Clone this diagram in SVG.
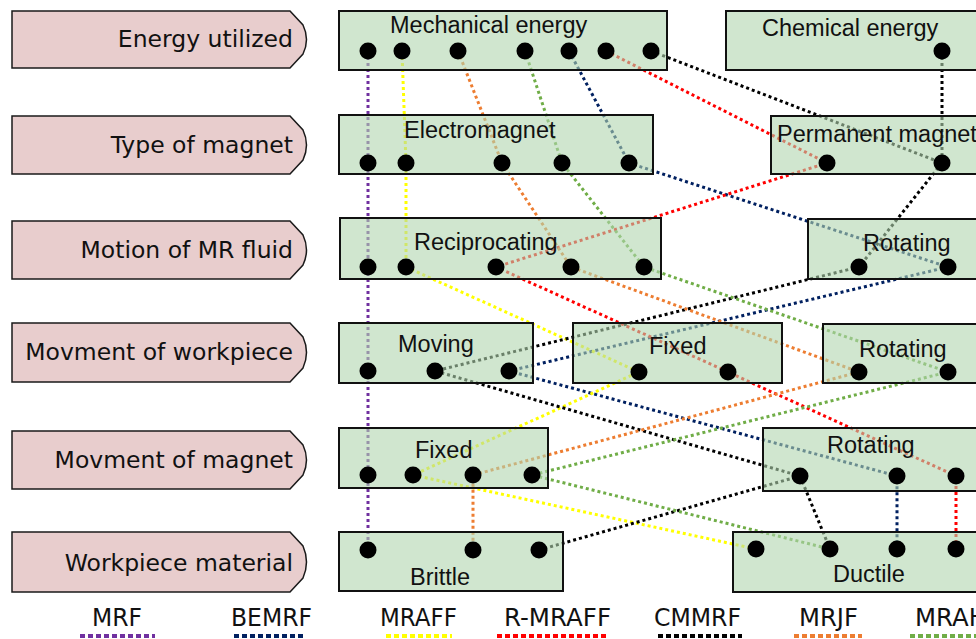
<svg xmlns="http://www.w3.org/2000/svg" width="976" height="639" viewBox="0 0 976 639">
<style>
.lbl{fill:#e8cdcd;stroke:#1a1a1a;stroke-width:1.5}
.ltxt{font-family:"DejaVu Sans",Verdana,sans-serif;font-size:23.5px;fill:#111;text-anchor:end}
.box{fill:#b1d5af;fill-opacity:0.6;stroke:#111;stroke-width:2}
.btxt{font-family:"Liberation Sans",Arial,sans-serif;font-size:23.5px;fill:#111}
.dot{fill:#000}
.c{fill:none;stroke-width:3;stroke-dasharray:3 3}
.lg{fill:none;stroke-width:4;stroke-dasharray:5 3}
.lgt{font-family:"DejaVu Sans",sans-serif;font-size:25px;fill:#111}
.mrf{stroke:#7030a0}.bemrf{stroke:#002060}.mraff{stroke:#ffff00}.rmraff{stroke:#ff0000}.cmmrf{stroke:#000}.mrjf{stroke:#ed7d31}.mrah{stroke:#70ad47}
</style>
<rect width="976" height="639" fill="#fff"/>
<g id="labels">
<g id="lbl-energy"><path class="lbl" d="M12,11H290L303,25Q310,39.5 303,54L290,68H12Z"/><text class="ltxt" x="293" y="47">Energy utilized</text></g>
<g id="lbl-magnet-type"><path class="lbl" d="M12,116H290L303,130Q310,145 303,160L290,174H12Z"/><text class="ltxt" x="293" y="153">Type of magnet</text></g>
<g id="lbl-motion"><path class="lbl" d="M12,221H290L303,235Q310,250 303,265L290,279H12Z"/><text class="ltxt" x="293" y="258">Motion of MR fluid</text></g>
<g id="lbl-workpiece-move"><path class="lbl" d="M12,323H290L303,337Q310,352.5 303,368L290,382H12Z"/><text class="ltxt" x="293" y="360">Movment of workpiece</text></g>
<g id="lbl-magnet-move"><path class="lbl" d="M12,431H290L303,445Q310,460 303,475L290,489H12Z"/><text class="ltxt" x="293" y="468">Movment of magnet</text></g>
<g id="lbl-material"><path class="lbl" d="M12,532H290L303,546Q310,562 303,578L290,592H12Z"/><text class="ltxt" x="293" y="571">Workpiece material</text></g>
</g>
<g id="connectors">
<polyline class="c mrf" points="368,51 368,163 368,267 368,371 368,475 368,550"/>
<polyline class="c bemrf" points="569,51 629,163 948,267 509,371 897,476 897,549"/>
<polyline class="c mraff" points="402,51 406,163 406,267 639,372 413,475 756,549"/>
<polyline class="c rmraff" points="606,51 827,163 496,267 728,372 956,476 956,549"/>
<polyline class="c cmmrf" points="651,51 942,163 859,267 435,371 800,476 539,550"/>
<polyline class="c cmmrf" points="942,51 942,163"/>
<polyline class="c cmmrf" points="800,476 830,549"/>
<polyline class="c mrjf" points="458,51 502,163 571,267 859,372 473,475 473,550"/>
<polyline class="c mrah" points="525,51 562,163 644,267 948,372 532,475 830,549"/>
</g>
<g id="n-mechanical"><rect class="box" x="339" y="11" width="328" height="59"/><text class="btxt" x="390" y="33">Mechanical energy</text>
<circle class="dot" cx="368" cy="51" r="8.5"/><circle class="dot" cx="402" cy="51" r="8.5"/><circle class="dot" cx="458" cy="51" r="8.5"/><circle class="dot" cx="525" cy="51" r="8.5"/><circle class="dot" cx="569" cy="51" r="8.5"/><circle class="dot" cx="606" cy="51" r="8.5"/><circle class="dot" cx="651" cy="51" r="8.5"/></g>
<g id="n-chemical"><rect class="box" x="726" y="11" width="264" height="59"/><text class="btxt" x="762" y="36">Chemical energy</text><circle class="dot" cx="942" cy="51" r="8.5"/></g>
<g id="n-electromagnet"><rect class="box" x="339" y="115" width="314" height="59"/><text class="btxt" x="404" y="138">Electromagnet</text>
<circle class="dot" cx="368" cy="163" r="8.5"/><circle class="dot" cx="406" cy="163" r="8.5"/><circle class="dot" cx="502" cy="163" r="8.5"/><circle class="dot" cx="562" cy="163" r="8.5"/><circle class="dot" cx="629" cy="163" r="8.5"/></g>
<g id="n-permanent"><rect class="box" x="771" y="116" width="219" height="58"/><text class="btxt" x="777" y="142">Permanent magnet</text><circle class="dot" cx="827" cy="163" r="8.5"/><circle class="dot" cx="942" cy="163" r="8.5"/></g>
<g id="n-reciprocating"><rect class="box" x="340" y="218" width="321" height="61"/><text class="btxt" x="414" y="250">Reciprocating</text>
<circle class="dot" cx="368" cy="267" r="8.5"/><circle class="dot" cx="406" cy="267" r="8.5"/><circle class="dot" cx="496" cy="267" r="8.5"/><circle class="dot" cx="571" cy="267" r="8.5"/><circle class="dot" cx="644" cy="267" r="8.5"/></g>
<g id="n-rotating-fluid"><rect class="box" x="808" y="219" width="182" height="60"/><text class="btxt" x="863" y="251">Rotating</text><circle class="dot" cx="859" cy="267" r="8.5"/><circle class="dot" cx="948" cy="267" r="8.5"/></g>
<g id="n-moving"><rect class="box" x="339" y="323" width="194" height="60"/><text class="btxt" x="398" y="352">Moving</text>
<circle class="dot" cx="368" cy="371" r="8.5"/><circle class="dot" cx="435" cy="371" r="8.5"/><circle class="dot" cx="509" cy="371" r="8.5"/></g>
<g id="n-fixed-workpiece"><rect class="box" x="573" y="323" width="209" height="60"/><text class="btxt" x="649" y="354">Fixed</text><circle class="dot" cx="639" cy="372" r="8.5"/><circle class="dot" cx="728" cy="372" r="8.5"/></g>
<g id="n-rotating-workpiece"><rect class="box" x="823" y="324" width="167" height="59"/><text class="btxt" x="859" y="357">Rotating</text><circle class="dot" cx="859" cy="372" r="8.5"/><circle class="dot" cx="948" cy="372" r="8.5"/></g>
<g id="n-fixed-magnet"><rect class="box" x="339" y="428" width="209" height="60"/><text class="btxt" x="415" y="458">Fixed</text>
<circle class="dot" cx="368" cy="475" r="8.5"/><circle class="dot" cx="413" cy="475" r="8.5"/><circle class="dot" cx="473" cy="475" r="8.5"/><circle class="dot" cx="532" cy="475" r="8.5"/></g>
<g id="n-rotating-magnet"><rect class="box" x="763" y="428" width="227" height="63"/><text class="btxt" x="827" y="453">Rotating</text>
<circle class="dot" cx="800" cy="476" r="8.5"/><circle class="dot" cx="897" cy="476" r="8.5"/><circle class="dot" cx="956" cy="476" r="8.5"/></g>
<g id="n-brittle"><rect class="box" x="339" y="532" width="224" height="59"/><text class="btxt" x="410" y="585">Brittle</text>
<circle class="dot" cx="368" cy="550" r="8.5"/><circle class="dot" cx="473" cy="550" r="8.5"/><circle class="dot" cx="539" cy="550" r="8.5"/></g>
<g id="n-ductile"><rect class="box" x="733" y="532" width="257" height="60"/><text class="btxt" x="833" y="582">Ductile</text>
<circle class="dot" cx="756" cy="549" r="8.5"/><circle class="dot" cx="830" cy="549" r="8.5"/><circle class="dot" cx="897" cy="549" r="8.5"/><circle class="dot" cx="956" cy="549" r="8.5"/></g>
<g id="legend">
<text class="lgt" x="92" y="626" textLength="50" lengthAdjust="spacingAndGlyphs">MRF</text>
<text class="lgt" x="231" y="626" textLength="81" lengthAdjust="spacingAndGlyphs">BEMRF</text>
<text class="lgt" x="380" y="626" textLength="77" lengthAdjust="spacingAndGlyphs">MRAFF</text>
<text class="lgt" x="504" y="626" textLength="107" lengthAdjust="spacingAndGlyphs">R-MRAFF</text>
<text class="lgt" x="654" y="626" textLength="87" lengthAdjust="spacingAndGlyphs">CMMRF</text>
<text class="lgt" x="799" y="626" textLength="59" lengthAdjust="spacingAndGlyphs">MRJF</text>
<text class="lgt" x="915" y="626" textLength="72" lengthAdjust="spacingAndGlyphs">MRAH</text>
<line class="lg mrf" x1="80" y1="636" x2="155" y2="636"/>
<line class="lg bemrf" x1="234" y1="636" x2="305" y2="636"/>
<line class="lg mraff" x1="386" y1="636" x2="452" y2="636"/>
<line class="lg rmraff" x1="497" y1="636" x2="608" y2="636"/>
<line class="lg cmmrf" x1="658" y1="636" x2="742" y2="636"/>
<line class="lg mrjf" x1="794" y1="636" x2="862" y2="636"/>
<line class="lg mrah" x1="910" y1="636" x2="976" y2="636"/>
</g>
</svg>
